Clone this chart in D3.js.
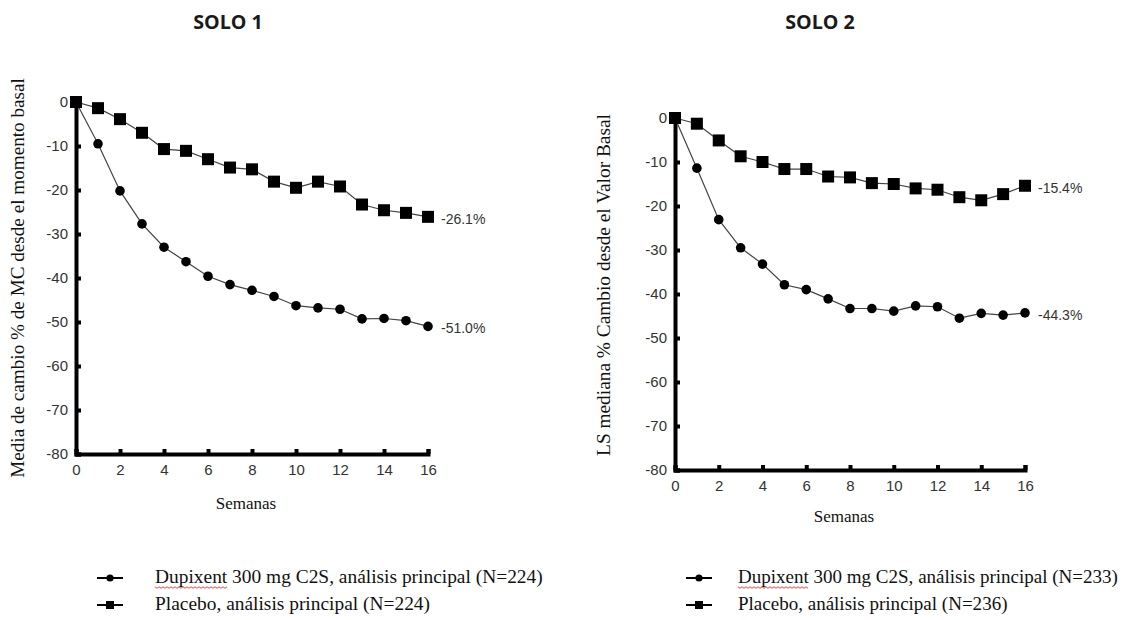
<!DOCTYPE html>
<html><head><meta charset="utf-8">
<script src="https://cdn.jsdelivr.net/npm/d3@7"></script>
<style>body{margin:0;background:#fff}svg{display:block}</style>
</head><body><svg id="c" width="1123" height="620"></svg>
<script>
const weeks = [0,1,2,3,4,5,6,7,8,9,10,11,12,13,14,15,16];
const xTicks = [0,2,4,6,8,10,12,14,16];
const yTicks = [0,-10,-20,-30,-40,-50,-60,-70,-80];

const solo1Dupixent = [0,-9.5,-20.2,-27.7,-33.0,-36.3,-39.6,-41.5,-42.8,-44.2,-46.3,-46.8,-47.1,-49.3,-49.2,-49.7,-51.0];
const solo1Placebo  = [0,-1.4,-3.9,-7.0,-10.7,-11.1,-13.0,-14.9,-15.3,-18.1,-19.5,-18.1,-19.2,-23.3,-24.6,-25.2,-26.1];
const solo2Dupixent = [0,-11.4,-23.1,-29.5,-33.2,-37.9,-39.0,-41.1,-43.3,-43.3,-43.9,-42.7,-42.9,-45.5,-44.4,-44.8,-44.3];
const solo2Placebo  = [0,-1.3,-5.1,-8.7,-10.0,-11.6,-11.6,-13.3,-13.5,-14.8,-15.0,-16.0,-16.3,-18.0,-18.7,-17.3,-15.4];

const titles = ["SOLO 1","SOLO 2"];
const yLabels = ["Media de cambio % de MC desde el momento basal","LS mediana % Cambio desde el Valor Basal"];
const xLabel = "Semanas";
const endLabels = [["-51.0%","-26.1%"],["-44.3%","-15.4%"]];
const legendDupixent = ["Dupixent 300 mg C2S, análisis principal (N=224)","Dupixent 300 mg C2S, análisis principal (N=233)"];
const legendPlacebo = ["Placebo, análisis principal (N=224)","Placebo, análisis principal (N=236)"];

const svg = d3.select("#c");
const serif = "'Liberation Serif','Times New Roman',serif";
const sans = "'Liberation Sans',Arial,sans-serif";

// font size giving a text a target rendered length
function fitSize(text, family, target){
  const t = svg.append("text").attr("font-family",family).attr("font-size",20).text(text);
  const w = t.node().getComputedTextLength(); t.remove();
  return 20*target/w;
}

const panels = [
  {x0:76, x1:428, y0:102, y1:454, titleX:228, labelX:24, labelLen:400, xLabelY:509, legX:97, legTextX:155, legLen:388, legY:578, dup:solo1Dupixent, pla:solo1Placebo},
  {x0:675, x1:1025, y0:118, y1:470, titleX:820, labelX:610, labelLen:342, xLabelY:522, legX:686, legTextX:738, legLen:380, legY:578, dup:solo2Dupixent, pla:solo2Placebo}
];

panels.forEach((p,i)=>{
  const x = d3.scaleLinear().domain([0,16]).range([p.x0,p.x1]);
  const y = d3.scaleLinear().domain([0,-80]).range([p.y0,p.y1]);
  const g = svg.append("g");

  g.append("text").attr("x",p.titleX).attr("y",29).attr("text-anchor","middle")
    .attr("font-family","'Open Sans','Noto Sans',sans-serif").attr("font-weight","bold")
    .attr("font-size",fitSize(titles[i],"'Open Sans'",68)).attr("fill","#1a1a1a").text(titles[i]);

  // y axis
  const ya = g.append("g").attr("transform",`translate(${p.x0},0)`)
    .call(d3.axisLeft(y).tickValues(yTicks).tickSize(-5).tickPadding(8).tickFormat(d=>String(d)));
  ya.select(".domain").attr("stroke","#000").attr("stroke-width",4);
  ya.selectAll(".tick line").attr("stroke","#000").attr("stroke-width",4);
  ya.selectAll(".tick text").attr("font-family",sans).attr("font-size",15).attr("fill","#333");

  // x axis
  const xa = g.append("g").attr("transform",`translate(0,${p.y1})`)
    .call(d3.axisBottom(x).tickValues(xTicks).tickSize(-5).tickPadding(10).tickFormat(d=>String(d)));
  xa.select(".domain").attr("stroke","#000").attr("stroke-width",4);
  xa.selectAll(".tick line").attr("stroke","#000").attr("stroke-width",4);
  xa.selectAll(".tick text").attr("font-family",sans).attr("font-size",15).attr("fill","#333");

  g.append("text").attr("transform",`translate(${p.labelX},${(p.y0+p.y1)/2 + (i?-9:0)}) rotate(-90)`)
    .attr("text-anchor","middle").attr("font-family",serif)
    .attr("font-size",fitSize(yLabels[i],serif,p.labelLen)).attr("fill","#111")
    .text(yLabels[i]);
  g.append("text").attr("x",(p.x0+p.x1)/2 - 6).attr("y",p.xLabelY).attr("text-anchor","middle")
    .attr("font-family",serif).attr("font-size",17).attr("fill","#111").text(xLabel);

  const line = d3.line().x((d,j)=>x(weeks[j])).y(d=>y(d));
  [p.pla,p.dup].forEach(s=>{
    g.append("path").datum(s).attr("d",line).attr("fill","none").attr("stroke","#444").attr("stroke-width",1.2);
  });
  g.selectAll(".sq").data(p.pla).enter().append("rect")
    .attr("x",(d,j)=>x(weeks[j])-6).attr("y",d=>y(d)-6).attr("width",12).attr("height",12).attr("fill","#000");
  g.selectAll(".ci").data(p.dup).enter().append("circle")
    .attr("cx",(d,j)=>x(weeks[j])).attr("cy",d=>y(d)).attr("r",4.8).attr("fill","#000");

  const last = weeks.length-1;
  [[p.dup,endLabels[i][0]],[p.pla,endLabels[i][1]]].forEach(([s,t])=>{
    g.append("text").attr("x",x(weeks[last])+13).attr("y",y(s[last])+7)
      .attr("font-family",sans).attr("font-size",14).attr("fill","#333").text(t);
  });

  // legend
  const legSize = fitSize(legendDupixent[i],serif,p.legLen);
  const rows = [{t:legendDupixent[i],m:"c",yy:p.legY},{t:legendPlacebo[i],m:"s",yy:p.legY+27}];
  rows.forEach(r=>{
    g.append("line").attr("x1",p.legX).attr("x2",p.legX+26).attr("y1",r.yy).attr("y2",r.yy)
      .attr("stroke","#000").attr("stroke-width",2);
    if(r.m==="c") g.append("circle").attr("cx",p.legX+13).attr("cy",r.yy).attr("r",3.6).attr("fill","#000");
    else g.append("rect").attr("x",p.legX+9).attr("y",r.yy-4).attr("width",8).attr("height",8).attr("fill","#000");
    g.append("text").attr("x",p.legTextX).attr("y",r.yy+5).attr("font-family",serif)
      .attr("font-size",legSize).attr("fill","#111").text(r.t);
    if(r.m==="c"){
      // red spell-check wavy underline under "Dupixent"
      const tmp = g.append("text").attr("font-family",serif).attr("font-size",legSize).text("Dupixent");
      const w = tmp.node().getComputedTextLength(); tmp.remove();
      const pts = []; for(let k=0;k<=w;k+=2){pts.push([p.legTextX+k, r.yy+9+((k/2)%2?1.3:-0.2)]);}
      g.append("path").attr("d",d3.line()(pts)).attr("fill","none").attr("stroke","#d33").attr("stroke-width",0.9);
    }
  });
});
</script></body></html>
